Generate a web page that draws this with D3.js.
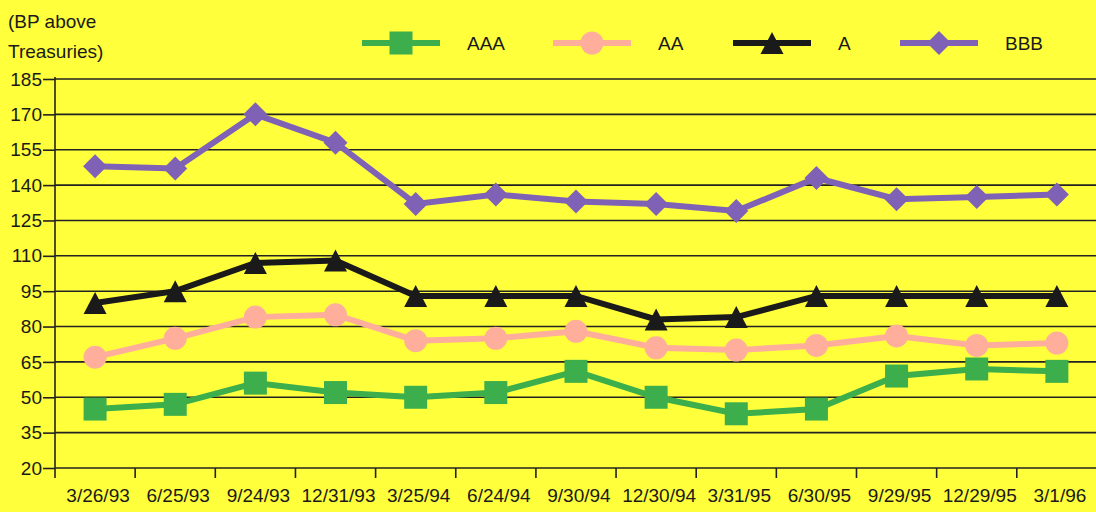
<!DOCTYPE html>
<html>
<head>
<meta charset="utf-8">
<script src="https://cdn.jsdelivr.net/npm/d3@7"></script>
<style>
    body { margin: 0; background: #ffff3c; }
    svg { display: block; font-family: "Liberation Sans", Arial, sans-serif; }
</style>
</head>
<body>
<div class="d3-container"></div>
<script>
const w = 1096
const h = 512
const mLeft = 55
const mTop = 79
const mBottom = 468
const fs = '19px'

// data
const dates = ['3/26/93', '6/25/93', '9/24/93', '12/31/93', '3/25/94', '6/24/94', '9/30/94',
    '12/30/94', '3/31/95', '6/30/95', '9/29/95', '12/29/95', '3/1/96']
const aaa = [45, 47, 56, 52, 50, 52, 61, 50, 43, 45, 59, 62, 61]
const aa = [67, 75, 84, 85, 74, 75, 78, 71, 70, 72, 76, 72, 73]
const a = [90, 95, 107, 108, 93, 93, 93, 83, 84, 93, 93, 93, 93]
const bbb = [148, 147, 170, 158, 132, 136, 133, 132, 129, 143, 134, 135, 136]
const yTicks = [20, 35, 50, 65, 80, 95, 110, 125, 140, 155, 170, 185]
const names = ['AAA', 'AA', 'A', 'BBB']

const series = [
    { name: names[0], values: aaa, color: '#3cae4b', shape: 'square' },
    { name: names[1], values: aa, color: '#ffae9c', shape: 'circle' },
    { name: names[2], values: a, color: '#1a1a1a', shape: 'triangle' },
    { name: names[3], values: bbb, color: '#7f62b6', shape: 'diamond' }
]

const svg = d3.select('.d3-container')
    .append('svg')
    .attr('width', w)
    .attr('height', h)

svg.append('rect')
    .attr('width', w)
    .attr('height', h)
    .attr('fill', '#ffff3c')

const x = d3.scaleBand()
    .domain(dates)
    .range([mLeft, mLeft + 13 * 80.15])

const y = d3.scaleLinear()
    .domain([20, 185])
    .range([mBottom, mTop])

// marker shapes, centred on the point
const shapePath = (shape) => {
    if (shape === 'square') return 'M-11.5,-11.5h23v23h-23z'
    if (shape === 'circle') return d3.symbol(d3.symbolCircle, Math.PI * 11.5 * 11.5)()
    if (shape === 'triangle') return 'M0,-11L11.5,11L-11.5,11Z'
    return 'M0,-12L12,0L0,12L-12,0Z'
}

// grid lines
svg.append('g')
    .attr('class', 'grid')
    .selectAll('line')
    .data(yTicks)
    .enter()
    .append('line')
    .attr('x1', mLeft)
    .attr('x2', w)
    .attr('y1', d => y(d))
    .attr('y2', d => y(d))
    .attr('stroke', '#222')
    .attr('stroke-width', 1.6)

// y axis
const yAxis = d3.axisLeft(y)
    .tickValues(yTicks)
    .tickSize(12)
    .tickPadding(1)

const yg = svg.append('g')
    .attr('transform', `translate(${mLeft},0)`)
    .call(yAxis)
yg.select('.domain').remove()
yg.selectAll('line').attr('stroke', '#222').attr('stroke-width', 1.6)
yg.selectAll('text')
    .attr('fill', '#1a1a1a')
    .style('font-size', fs)

svg.append('line')
    .attr('x1', mLeft)
    .attr('x2', mLeft)
    .attr('y1', mTop - 2)
    .attr('y2', mBottom + 10)
    .attr('stroke', '#222')
    .attr('stroke-width', 1.6)

// x axis
const xAxis = d3.axisBottom(x)
    .tickSize(0)
    .tickPadding(17)

const xg = svg.append('g')
    .attr('transform', `translate(0,${mBottom})`)
    .call(xAxis)
xg.select('.domain').remove()
xg.selectAll('text')
    .attr('fill', '#1a1a1a')
    .attr('dy', '0.9em')
    .attr('dx', 3)
    .style('font-size', fs)

svg.append('g')
    .selectAll('line')
    .data(dates.slice(0, -1))
    .enter()
    .append('line')
    .attr('x1', d => x(d) + x.bandwidth())
    .attr('x2', d => x(d) + x.bandwidth())
    .attr('y1', mBottom)
    .attr('y2', mBottom + 10)
    .attr('stroke', '#222')
    .attr('stroke-width', 1.6)

// lines + markers
const line = d3.line()
    .x((d, i) => x(dates[i]) + x.bandwidth() / 2)
    .y(d => y(d))

series.forEach(s => {
    const g = svg.append('g').attr('class', 'series')
    g.append('path')
        .datum(s.values)
        .attr('d', line)
        .attr('fill', 'none')
        .attr('stroke', s.color)
        .attr('stroke-width', 6)
    g.selectAll('path.mark')
        .data(s.values)
        .enter()
        .append('path')
        .attr('class', 'mark')
        .attr('d', shapePath(s.shape))
        .attr('transform', (d, i) => `translate(${x(dates[i]) + x.bandwidth() / 2},${y(d)})`)
        .attr('fill', s.color)
})

// legend
const legendX = [362, 553, 733, 900]
const legend = svg.append('g')
    .attr('transform', 'translate(0, 43)')

series.forEach((s, i) => {
    const lg = legend.append('g')
        .attr('transform', `translate(${legendX[i]},0)`)
    lg.append('line')
        .attr('x1', 0)
        .attr('x2', 78)
        .attr('stroke', s.color)
        .attr('stroke-width', 6)
    lg.append('path')
        .attr('d', shapePath(s.shape))
        .attr('transform', 'translate(39,0)')
        .attr('fill', s.color)
    lg.append('text')
        .attr('x', 105)
        .attr('y', 7)
        .attr('fill', '#1a1a1a')
        .style('font-size', fs)
        .text(s.name)
})

// axis title
const title = svg.append('text')
    .attr('fill', '#1a1a1a')
    .style('font-size', fs)
title.append('tspan').attr('x', 8).attr('y', 28).text('(BP above')
title.append('tspan').attr('x', 8).attr('y', 58).text('Treasuries)')
</script>
</body>
</html>
